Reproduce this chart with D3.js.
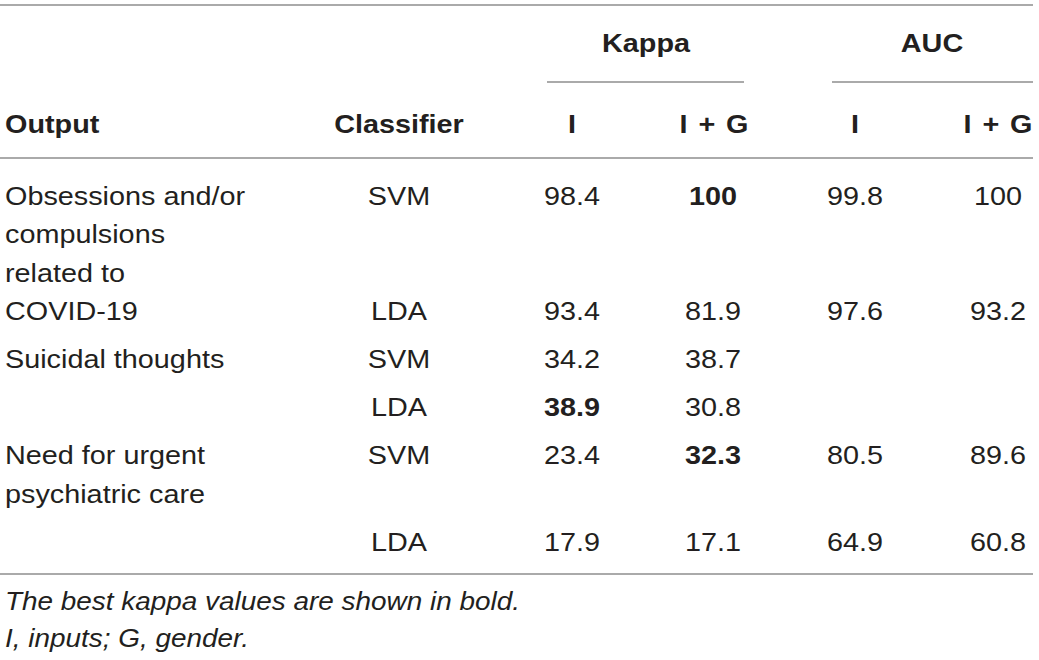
<!DOCTYPE html>
<html>
<head>
<meta charset="utf-8">
<script src="https://cdn.jsdelivr.net/npm/d3@7"></script>
<style>
  html, body { margin: 0; padding: 0; background: #fff; }
  svg { display: block; }
  text { font-family: "Liberation Sans", Arial, Helvetica, sans-serif; fill: #231f20; }
</style>
</head>
<body>
<svg id="chart" width="1039" height="660"></svg>
<script>
// ---------- data ----------
const groupHeaders = ["Kappa", "AUC"];
const columnHeaders = ["Output", "Classifier", "I", "I + G", "I", "I + G"];
const outputLabels = [
  ["Obsessions and/or", "compulsions", "related to", "COVID-19"],
  ["Suicidal thoughts"],
  ["Need for urgent", "psychiatric care"]
];
const rowGroup = [0, 0, 1, 1, 2, 2];
const classifiers = ["SVM", "LDA", "SVM", "LDA", "SVM", "LDA"];
const kappaI  = [98.4, 93.4, 34.2, 38.9, 23.4, 17.9];
const kappaIG = [100, 81.9, 38.7, 30.8, 32.3, 17.1];
const aucI    = [99.8, 97.6, null, null, 80.5, 64.9];
const aucIG   = [100, 93.2, null, null, 89.6, 60.8];
const footnotes = ["The best kappa values are shown in bold.", "I, inputs; G, gender."];

// ---------- layout ----------
const FS = 25.5, SX = 1.13, SX_ITALIC = 1.095;
const ruleColor = "#8e8e8e";
// row positions in "line units" (a text line = 1, row padding = 0.25)
const rowUnits = [0, 3, 4.25, 5.5, 6.75, 9];
const groupUnits = [0, 4.25, 6.75];
const y = d3.scaleLinear().domain([0, 1]).range([205, 243.4]);
const colKeys = ["output", "classifier", "kI", "kIG", "aI", "aIG"];
const x = d3.scaleOrdinal().domain(colKeys).range([5, 399, 572, 713, 855, 998]);
const anchors = ["start", "middle", "middle", "middle", "middle", "middle"];

const svg = d3.select("#chart");

function txt(g, s, px, py, anchor, opts = {}) {
  const sx = opts.italic ? SX_ITALIC : SX;
  return g.append("text")
    .attr("transform", `translate(${px},${py}) scale(${sx},1)`)
    .attr("text-anchor", anchor)
    .style("font-size", FS + "px")
    .style("font-weight", opts.bold ? "bold" : "normal")
    .style("font-style", opts.italic ? "italic" : "normal")
    .style("word-spacing", opts.ws ? opts.ws + "px" : null)
    .text(s);
}
function rule(x1, x2, yy) {
  svg.append("line").attr("x1", x1).attr("x2", x2).attr("y1", yy).attr("y2", yy)
    .attr("stroke", ruleColor).attr("stroke-width", 1.5);
}

// rules
rule(0, 1033, 5);
rule(547, 744, 82);
rule(832, 1033, 82);
rule(0, 1033, 158);
rule(0, 1033, 574);

// group headers
const gh = svg.append("g");
txt(gh, groupHeaders[0], 646, 52, "middle", { bold: true });
txt(gh, groupHeaders[1], 932, 52, "middle", { bold: true });

// column headers
const ch = svg.append("g");
columnHeaders.forEach((h, i) => {
  const px = i === 5 ? 998 : (i === 3 ? 714 : x(colKeys[i]));
  txt(ch, h, px, 133, anchors[i], { bold: true, ws: h.includes("+") ? 2.5 : 0 });
});

// output labels
const body = svg.append("g");
outputLabels.forEach((lines, gi) => {
  lines.forEach((ln, li) => txt(body, ln, x("output"), y(groupUnits[gi] + li), "start"));
});

// best kappa per output group
const best = {};
rowGroup.forEach((g, r) => {
  const m = Math.max(kappaI[r], kappaIG[r]);
  best[g] = Math.max(best[g] ?? -Infinity, m);
});

const fmt = v => (v === 100 ? "100" : d3.format(".1f")(v));
classifiers.forEach((c, r) => {
  const yy = y(rowUnits[r]);
  txt(body, c, x("classifier"), yy, "middle");
  [["kI", kappaI[r], true], ["kIG", kappaIG[r], true], ["aI", aucI[r], false], ["aIG", aucIG[r], false]]
    .forEach(([k, v, isKappa]) => {
      if (v == null) return;
      txt(body, fmt(v), x(k), yy, "middle", { bold: isKappa && v === best[rowGroup[r]] });
    });
});

// footnotes
const fn = svg.append("g");
footnotes.forEach((f, i) => txt(fn, f, 5, 610 + i * 37, "start", { italic: true }));
</script>
</body>
</html>
